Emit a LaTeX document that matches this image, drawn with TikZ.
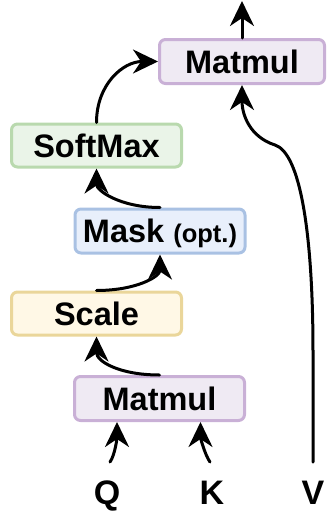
\documentclass[tikz,border=0pt]{standalone}
\usepackage{fontspec}
\setmainfont{Liberation Sans}
\usetikzlibrary{arrows.meta}

\definecolor{purfill}{HTML}{EFEAF3}
\definecolor{purline}{HTML}{C9B0D6}
\definecolor{grnfill}{HTML}{EAF4E8}
\definecolor{grnline}{HTML}{B9D9AE}
\definecolor{blufill}{HTML}{E8EFFB}
\definecolor{bluline}{HTML}{A9C1E3}
\definecolor{yelfill}{HTML}{FFF8E6}
\definecolor{yelline}{HTML}{EAD69A}

\begin{document}
\begin{tikzpicture}[x=1pt,y=-1pt,
  box/.style={draw, line width=3pt, rounded corners=6pt,
    minimum width=170pt, minimum height=43pt, inner sep=0pt,
    text height=23pt, text depth=0pt,
    font=\fontsize{32.5}{38}\selectfont\bfseries},
  purbox/.style={box, draw=purline, fill=purfill},
  grnbox/.style={box, draw=grnline, fill=grnfill},
  blubox/.style={box, draw=bluline, fill=blufill},
  yelbox/.style={box, draw=yelline, fill=yelfill},
  flow/.style={line width=3pt, line cap=round,
    -{Stealth[length=25pt,width=24pt,inset=8pt]}},
  lbl/.style={inner sep=0pt, text height=24pt, text depth=0pt,
    font=\fontsize{34}{40}\selectfont\bfseries}
]
\useasboundingbox (0,0) rectangle (328,517);

% blocks
\node[purbox, minimum width=165pt, minimum height=44pt] (mm2) at (242,61.5) {Matmul};
\node[grnbox] (sm)    at (96.5,145.5) {SoftMax};
\node[blubox, minimum height=44pt] (mask) at (160,231)
  {Mask {\fontsize{25.5}{30}\selectfont(opt.)}};
\node[yelbox] (scale) at (96.5,313.5) {Scale};
\node[purbox, minimum height=44pt] (mm1) at (159.5,398.5) {Matmul};

% inputs
\node[lbl] (q) at (107,492.5) {Q};
\node[lbl] (k) at (212,492.5) {K};
\node[lbl] (v) at (313,492.5) {V};
\coordinate (qin) at (110,462);
\coordinate (kin) at (210,462);
\coordinate (vin) at (313,462);
\coordinate (out) at (242,1);

% connectors
\draw[flow] (qin) .. controls +(5,-7) and +(0,16) .. ([xshift=-42.5pt]mm1.south);
\draw[flow] (kin) .. controls +(-5,-7) and +(0,16) .. ([xshift=41pt]mm1.south);
\draw[flow] (mm1.north) .. controls +(-40,0) and +(0,25) .. (scale.south);
\draw[flow] (scale.north) .. controls +(40,0) and +(0,22) .. (mask.south);
\draw[flow] (mask.north) .. controls +(-40,0) and +(0,22) .. (sm.south);
\draw[flow] (sm.north) .. controls +(0,-38) and +(-35,0) .. (mm2.west);
\draw[flow] (vin) -- ++(0,-110)
  .. controls +(0,-120) and +(25,8) .. ++(-38,-207)
  .. controls +(-25,-8) and +(0,30) .. (mm2.south);
\draw[flow] (mm2.north) -- (out);
\end{tikzpicture}
\end{document}
